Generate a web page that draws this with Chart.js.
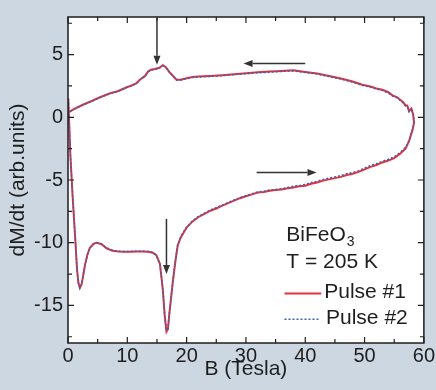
<!DOCTYPE html>
<html>
<head>
<meta charset="utf-8">
<script src="https://cdn.jsdelivr.net/npm/chart.js@4.4.1/dist/chart.umd.min.js"></script>
<style>
  html, body { margin: 0; padding: 0; background: #cdd7e1; }
  #wrap { width: 436px; height: 390px; position: relative; }
  #loopChart { background: #ffffff; }
</style>
</head>
<body>
<div id="wrap"><canvas id="loopChart"></canvas></div>
<script>
// field sweep up (0 -> 58 T), lower branch
const bUp = [0.05, 0.4, 0.8, 1.2, 1.5, 1.75, 2.0, 2.3, 2.9, 3.3, 3.7, 4.3, 4.8, 5.6, 6.5, 7.5, 8.5, 9.5, 10.5, 11.5, 12.5, 13.5, 14.3, 14.9, 15.5, 16.0, 16.3, 16.6, 16.85, 17.1, 17.7, 18.1, 18.5, 19, 19.6, 20, 21, 22, 23, 24, 25, 26, 27, 28, 29, 30, 31, 32, 33, 34, 35, 36, 37, 38, 39, 40, 41, 42, 43, 44, 45, 46, 47, 48, 49, 50, 51, 52, 53, 54, 55, 56, 56.9, 57.5, 58.1, 58.35];
const pulse1Up = [1.5, -3, -6.5, -9.5, -12, -13.2, -13.6, -13.3, -11.7, -10.9, -10.4, -10.1, -10.0, -10.1, -10.45, -10.65, -10.7, -10.72, -10.72, -10.7, -10.7, -10.72, -10.8, -11.0, -11.7, -13.8, -15.8, -17.1, -16.9, -15.6, -13.0, -11.5, -10.2, -9.6, -9.1, -8.8, -8.3, -7.95, -7.7, -7.45, -7.27, -7.05, -6.85, -6.65, -6.45, -6.3, -6.15, -6.0, -5.95, -5.85, -5.8, -5.75, -5.65, -5.6, -5.5, -5.45, -5.3, -5.2, -5.05, -4.95, -4.85, -4.75, -4.6, -4.5, -4.35, -4.15, -3.95, -3.8, -3.6, -3.45, -3.25, -2.9, -2.5, -1.9, -1.0, -0.4];
const pulse2Up = [1.5, -3, -6.5, -9.5, -12, -13.2, -13.6, -13.3, -11.7, -10.9, -10.4, -10.1, -10.0, -10.1, -10.4, -10.6, -10.68, -10.7, -10.7, -10.68, -10.68, -10.7, -10.78, -11.0, -11.7, -13.8, -15.8, -17.0, -16.9, -15.6, -13.0, -11.5, -10.2, -9.55, -9.05, -8.75, -8.25, -7.9, -7.65, -7.4, -7.2, -7.0, -6.8, -6.6, -6.4, -6.25, -6.1, -5.95, -5.9, -5.8, -5.75, -5.7, -5.6, -5.5, -5.45, -5.35, -5.2, -5.1, -4.95, -4.85, -4.75, -4.65, -4.5, -4.4, -4.25, -4.05, -3.85, -3.7, -3.5, -3.35, -3.15, -2.8, -2.4, -1.85, -0.95, -0.4];

// field sweep down (58 -> 0 T), upper branch
const bDown = [58.2, 57.9, 57.5, 57.2, 56.9, 56.5, 56, 55.5, 54.7, 54, 53, 52, 51, 49.6, 48, 46, 44, 42, 40, 38, 36, 34, 32, 30, 28, 26, 24, 22, 21, 20, 19, 18.3, 17.6, 17.1, 16.5, 16.0, 15.4, 14.6, 14.0, 13.5, 13.0, 12.1, 11.5, 10.5, 9.9, 8.5, 7, 5.4, 4, 2.5, 1, 0.1];
const pulse1Down = [0.2, 0.7, 0.5, 0.95, 0.95, 1.2, 1.4, 1.6, 1.75, 2.0, 2.2, 2.3, 2.45, 2.6, 2.85, 3.1, 3.3, 3.5, 3.62, 3.75, 3.7, 3.65, 3.6, 3.52, 3.44, 3.36, 3.3, 3.26, 3.22, 3.12, 3.0, 3.0, 3.35, 3.6, 4.0, 4.15, 3.95, 3.86, 3.8, 3.65, 3.3, 3.0, 2.7, 2.5, 2.4, 2.1, 1.9, 1.6, 1.3, 1.0, 0.65, 0.4];
const pulse2Down = [0.15, 0.6, 0.45, 0.9, 0.9, 1.15, 1.35, 1.55, 1.7, 1.95, 2.15, 2.25, 2.4, 2.55, 2.8, 3.05, 3.25, 3.45, 3.58, 3.7, 3.66, 3.6, 3.55, 3.48, 3.4, 3.32, 3.26, 3.22, 3.18, 3.08, 2.97, 2.98, 3.32, 3.58, 3.98, 4.12, 3.92, 3.82, 3.76, 3.62, 3.28, 2.98, 2.68, 2.48, 2.38, 2.08, 1.88, 1.58, 1.28, 0.98, 0.64, 0.4];

const xTicks = [0, 10, 20, 30, 40, 50, 60];
const yTicks = [-15, -10, -5, 0, 5];

function loopPoints(up, down) {
    const pts = bUp.map((b, i) => ({ x: b, y: up[i] }));
    return pts.concat(bDown.map((b, i) => ({ x: b, y: down[i] })));
}

const ink = '#1e1e1e';
const font = '"Liberation Sans", Arial, sans-serif';
const pageBg = '#cdd7e1';

// grey margin around a white plot area
const plotBg = {
    id: 'plotBg',
    beforeDraw(chart) {
        const { ctx, chartArea: a, width, height } = chart;
        ctx.save();
        ctx.fillStyle = pageBg;
        ctx.beginPath();
        ctx.rect(0, 0, width, height);
        ctx.rect(a.left, a.top, a.right - a.left, a.bottom - a.top);
        ctx.fill('evenodd');
        ctx.restore();
    }
};

// frame, inner ticks on all four sides, arrows and the in-plot legend
const decor = {
    id: 'decor',
    afterDatasetsDraw(chart) {
        const { ctx, chartArea: a, scales: { x, y } } = chart;
        ctx.save();
        ctx.strokeStyle = ink;
        ctx.lineWidth = 1.5;
        ctx.strokeRect(a.left, a.top, a.right - a.left, a.bottom - a.top);

        ctx.lineWidth = 1.2;
        ctx.beginPath();
        for (let v = 0; v <= 60; v += 5) {
            const px = x.getPixelForValue(v);
            const len = v % 10 === 0 ? 6 : 4;
            ctx.moveTo(px, a.bottom); ctx.lineTo(px, a.bottom - len);
            ctx.moveTo(px, a.top); ctx.lineTo(px, a.top + len);
        }
        for (let v = -17.5; v <= 7.5; v += 2.5) {
            const py = y.getPixelForValue(v);
            const len = v % 5 === 0 ? 6 : 4;
            ctx.moveTo(a.left, py); ctx.lineTo(a.left + len, py);
            ctx.moveTo(a.right, py); ctx.lineTo(a.right - len, py);
        }
        ctx.stroke();

        // arrows in data coordinates
        const arrow = (x1, y1, x2, y2) => {
            const p1 = [x.getPixelForValue(x1), y.getPixelForValue(y1)];
            const p2 = [x.getPixelForValue(x2), y.getPixelForValue(y2)];
            const ang = Math.atan2(p2[1] - p1[1], p2[0] - p1[0]);
            const hl = 9, hw = 3.5;
            ctx.strokeStyle = '#333';
            ctx.fillStyle = '#333';
            ctx.lineWidth = 1.5;
            ctx.beginPath();
            ctx.moveTo(p1[0], p1[1]);
            ctx.lineTo(p2[0] - hl * Math.cos(ang), p2[1] - hl * Math.sin(ang));
            ctx.stroke();
            ctx.beginPath();
            ctx.moveTo(p2[0], p2[1]);
            ctx.lineTo(p2[0] - hl * Math.cos(ang) + hw * Math.sin(ang), p2[1] - hl * Math.sin(ang) - hw * Math.cos(ang));
            ctx.lineTo(p2[0] - hl * Math.cos(ang) - hw * Math.sin(ang), p2[1] - hl * Math.sin(ang) + hw * Math.cos(ang));
            ctx.closePath();
            ctx.fill();
        };
        arrow(15.0, 8, 15.0, 4.2);
        arrow(40.0, 4.3, 29.6, 4.3);
        arrow(31.8, -4.4, 41.9, -4.4);
        arrow(16.6, -8.1, 16.6, -12.5);

        // legend block
        const lx = x.getPixelForValue(36.8);
        ctx.fillStyle = ink;
        ctx.textAlign = 'left';
        ctx.textBaseline = 'alphabetic';
        ctx.font = '21px ' + font;
        const by = y.getPixelForValue(-9.85);
        ctx.fillText('BiFeO', lx, by);
        const w = ctx.measureText('BiFeO').width;
        ctx.font = '14px ' + font;
        ctx.fillText('3', lx + w + 1, by + 5);
        ctx.font = '21px ' + font;
        ctx.fillText('T = 205 K', lx, y.getPixelForValue(-12.05));

        const l1 = y.getPixelForValue(-14.06), l2 = y.getPixelForValue(-16.1);
        ctx.lineWidth = 2;
        ctx.strokeStyle = '#e8303a';
        ctx.beginPath();
        ctx.moveTo(x.getPixelForValue(36.5), l1); ctx.lineTo(x.getPixelForValue(42.7), l1);
        ctx.stroke();
        ctx.lineWidth = 1.5;
        ctx.strokeStyle = '#3466b4';
        ctx.setLineDash([2, 2]);
        ctx.beginPath();
        ctx.moveTo(x.getPixelForValue(36.5), l2); ctx.lineTo(x.getPixelForValue(42.4), l2);
        ctx.stroke();
        ctx.setLineDash([]);
        ctx.fillText('Pulse #1', x.getPixelForValue(43.2), y.getPixelForValue(-14.45));
        ctx.fillText('Pulse #2', x.getPixelForValue(43.5), y.getPixelForValue(-16.5));
        ctx.restore();
    }
};

new Chart(document.getElementById('loopChart'), {
    type: 'scatter',
    data: {
        datasets: [{
            label: 'Pulse #1',
            data: loopPoints(pulse1Up, pulse1Down),
            showLine: true,
            borderColor: '#e8303a',
            borderWidth: 2,
            pointRadius: 0,
            tension: 0,
            order: 2
        }, {
            label: 'Pulse #2',
            data: loopPoints(pulse2Up, pulse2Down),
            showLine: true,
            borderColor: '#3466b4',
            borderWidth: 1.5,
            borderDash: [2, 2],
            pointRadius: 0,
            tension: 0,
            order: 1
        }]
    },
    options: {
        responsive: true,
        maintainAspectRatio: false,
        animation: false,
        layout: { padding: { top: 14, right: 11, left: 0, bottom: 0 } },
        plugins: { legend: { display: false }, tooltip: { enabled: false } },
        scales: {
            x: {
                type: 'linear', min: 0, max: 60,
                afterBuildTicks: s => { s.ticks = xTicks.map(v => ({ value: v })); },
                afterFit: s => { s.height = 47; },
                grid: { display: false, drawTicks: false },
                border: { display: false },
                ticks: { padding: 1, color: ink, font: { family: font, size: 20 } },
                title: { display: true, text: 'B (Tesla)', color: ink, padding: { top: 0, bottom: 8 }, font: { family: font, size: 21 } }
            },
            y: {
                type: 'linear', min: -18, max: 8,
                afterBuildTicks: s => { s.ticks = yTicks.map(v => ({ value: v })); },
                afterFit: s => { s.width = 68; },
                grid: { display: false, drawTicks: false },
                border: { display: false },
                ticks: { padding: 5, color: ink, font: { family: font, size: 20 } },
                title: { display: true, text: 'dM/dt (arb.units)', color: ink, padding: { top: 6, bottom: 0 }, font: { family: font, size: 21 } }
            }
        }
    },
    plugins: [plotBg, decor]
});
</script>
</body>
</html>
